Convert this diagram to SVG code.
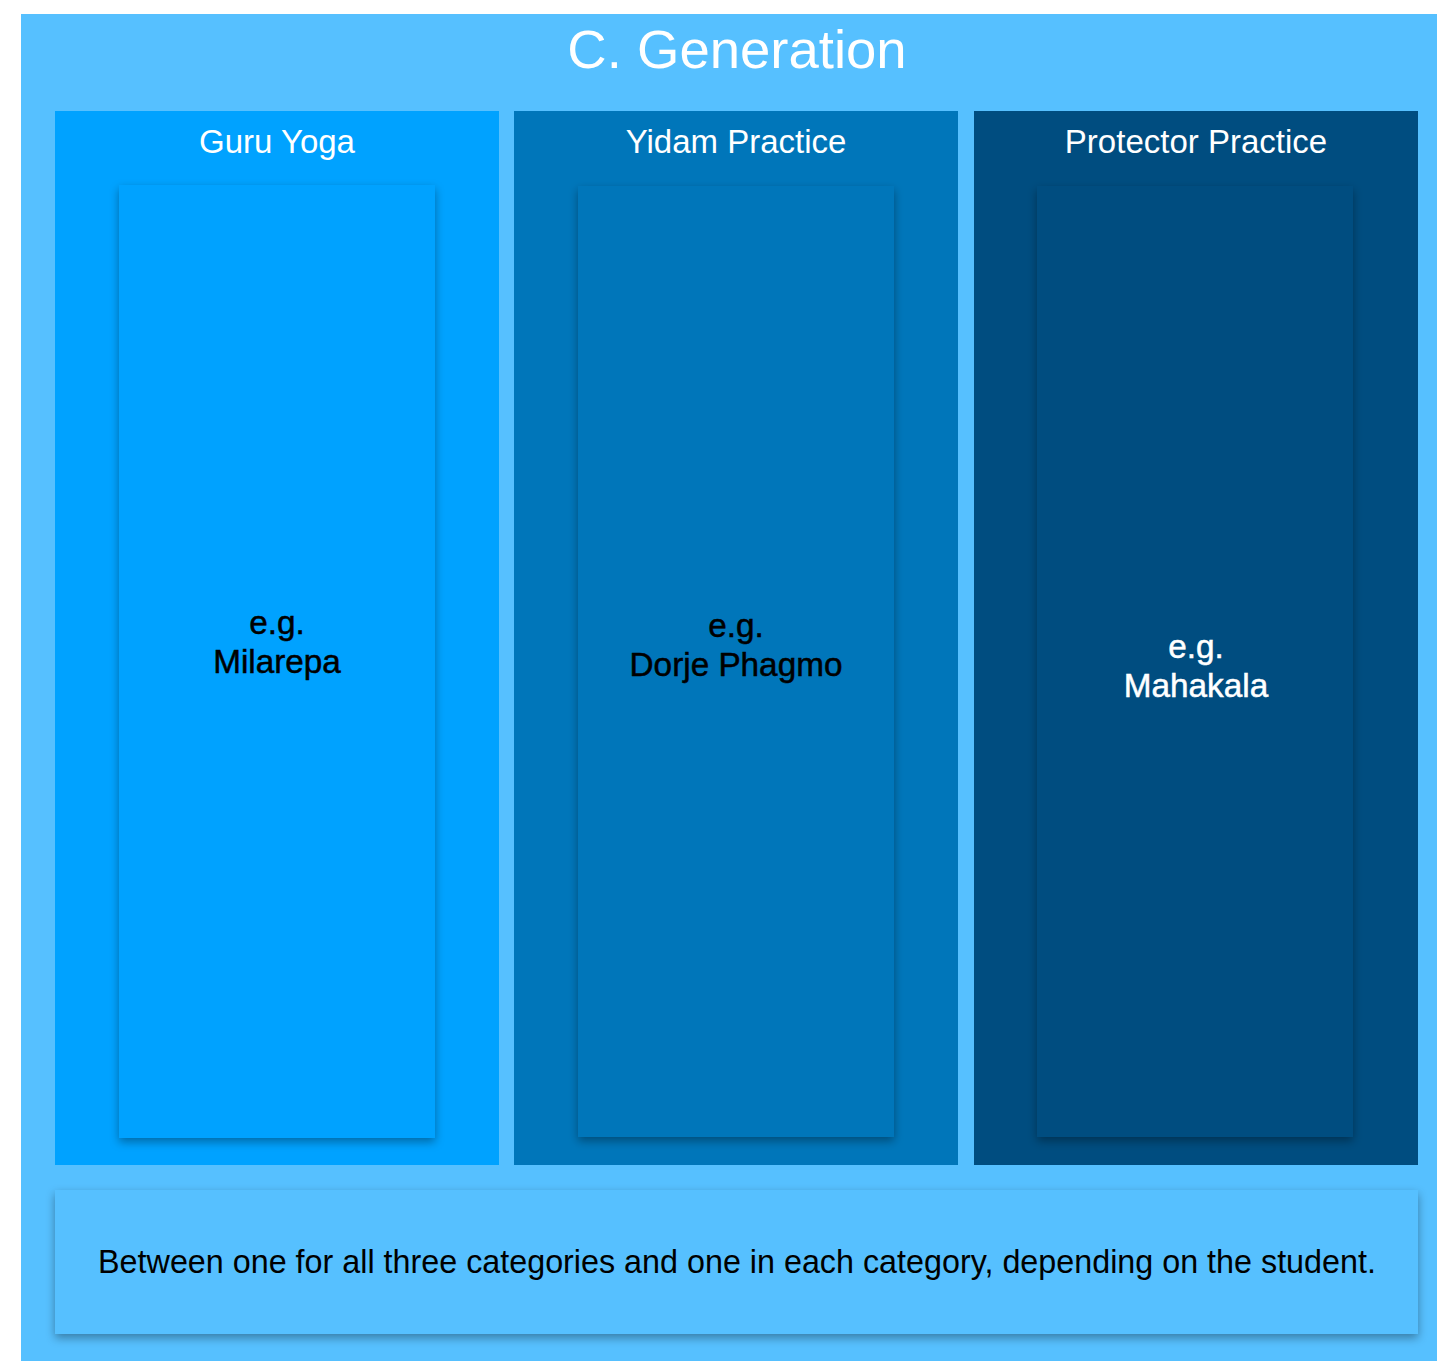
<svg xmlns="http://www.w3.org/2000/svg" width="1437" height="1361" viewBox="0 0 1437 1361">
<style>
text{font-family:"Liberation Sans",Arial,Helvetica,sans-serif;text-anchor:middle}
.title{font-size:54.5px;fill:#fff}
.hdr{font-size:33px;fill:#fff}
.lbl{font-size:33.3px;fill:#000;stroke:#000;stroke-width:0.5px}
.lblw{font-size:33.3px;fill:#fff;stroke:#fff;stroke-width:0.5px}
.note{font-size:32.3px;fill:#000}
</style>
<defs>
<filter id="sh" x="-20%" y="-10%" width="140%" height="120%">
<feDropShadow dx="0" dy="4" stdDeviation="5" flood-color="#000" flood-opacity="0.35"/>
</filter>
</defs>
<rect width="1437" height="1361" fill="#fff"/>
<g id="frame">
<rect x="21" y="14" width="1416" height="1347" fill="#56C0FF"/>
<text class="title" x="737" y="68">C. Generation</text>
</g>
<g id="guru-yoga">
<rect x="55" y="111" width="444" height="1054" fill="#00A2FF"/>
<text class="hdr" x="277" y="153">Guru Yoga</text>
<rect x="119" y="185" width="316" height="953" fill="#00A2FF" filter="url(#sh)"/>
<text class="lbl" x="277" y="634">e.g.</text>
<text class="lbl" x="277" y="673">Milarepa</text>
</g>
<g id="yidam-practice">
<rect x="514" y="111" width="444" height="1054" fill="#0076BA"/>
<text class="hdr" x="736" y="153">Yidam Practice</text>
<rect x="578" y="186" width="316" height="951" fill="#0076BA" filter="url(#sh)"/>
<text class="lbl" x="736" y="637">e.g.</text>
<text class="lbl" x="736" y="676">Dorje Phagmo</text>
</g>
<g id="protector-practice">
<rect x="974" y="111" width="444" height="1054" fill="#004D80"/>
<text class="hdr" x="1196" y="153">Protector Practice</text>
<rect x="1037" y="186" width="316" height="951" fill="#004D80" filter="url(#sh)"/>
<text class="lblw" x="1196" y="658">e.g.</text>
<text class="lblw" x="1196" y="697">Mahakala</text>
</g>
<g id="note">
<rect x="55" y="1190" width="1363" height="144" fill="#56C0FF" filter="url(#sh)"/>
<text class="note" x="737" y="1273">Between one for all three categories and one in each category, depending on the student.</text>
</g>
<g id="connectors"></g>
</svg>
